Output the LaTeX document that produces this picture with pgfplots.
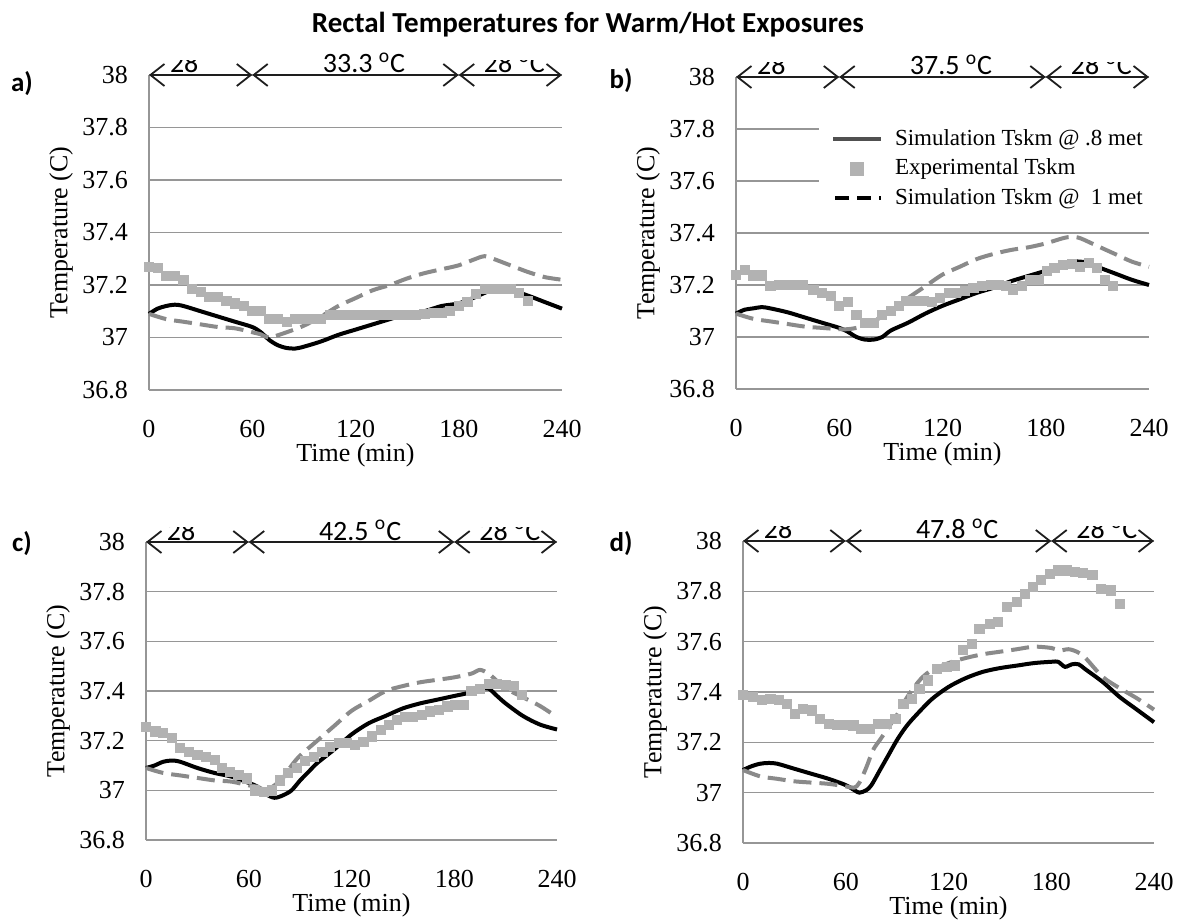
\documentclass[border=0pt]{standalone}
\usepackage{fontspec}
\setmainfont{Liberation Serif}
\newfontfamily\carlito{Carlito}
\usepackage{pgfplots}
\pgfplotsset{compat=1.18}
\usetikzlibrary{arrows.meta,calc}

\definecolor{gridgray}{RGB}{150,150,150}
\definecolor{sqgray}{RGB}{178,178,178}
\definecolor{dashgray}{RGB}{138,138,138}
\definecolor{arrowc}{RGB}{30,30,30}
\definecolor{leggray}{RGB}{80,80,80}

\pgfplotsset{
 panel/.style={
  scale only axis,
  xmin=0,xmax=240,ymin=36.8,ymax=38,
  xtick={0,60,120,180,240},
  ytick={36.8,37,37.2,37.4,37.6,37.8,38},
  axis x line=bottom, axis y line=left,
  axis line style={-,draw=gridgray,line width=0.6pt},
  major tick length=0pt,
  ymajorgrids, grid style={draw=gridgray,line width=0.6pt},
  tick label style={font=\fontsize{13}{15}\selectfont},
  /pgf/number format/assume math mode=true,
  xticklabel style={anchor=center,yshift=-19.5pt},
  yticklabel style={anchor=east,xshift=-7pt},
  xlabel={Time (min)}, ylabel={Temperature (C)},
  every axis x label/.style={at={(axis description cs:0.5,0)},anchor=center,yshift=-32.5pt,font=\fontsize{13}{15}\selectfont},
  every axis y label/.style={at={(axis description cs:0,0.5)},xshift=-44pt,rotate=90,anchor=center,font=\fontsize{13}{15}\selectfont},
  clip=false,
 },
 solidl/.style={black,line width=2pt,smooth,no marks},
 dashl/.style={dashgray,line width=2pt,dash pattern=on 9pt off 4pt,smooth,no marks},
 sq/.style={only marks,mark=square*,mark size=2.3pt,color=sqgray},
}

\newcommand\toparrows[3]{%
 \begin{scope}[arrowc]
 \draw[line width=0.9pt,{Straight Barb[length=7pt,width=11pt]}-{Straight Barb[length=7pt,width=11pt]}] (#1L) -- ($(#1L)!0.25!(#1R)$);
 \draw[line width=0.9pt,{Straight Barb[length=7pt,width=11pt]}-{Straight Barb[length=7pt,width=11pt]}] ($(#1L)!0.25!(#1R)$) -- ($(#1L)!0.75!(#1R)$);
 \draw[line width=0.9pt,{Straight Barb[length=7pt,width=11pt]}-{Straight Barb[length=7pt,width=11pt]}] ($(#1L)!0.75!(#1R)$) -- (#1R);
 \begin{scope}
  \clip ($(#1L)!0.03!(#1R)+(0,-3pt)$) rectangle ($(#1L)!0.2!(#1R)+(0,7.3pt)$);
  \node[anchor=base west,inner sep=0pt,font=\carlito\fontsize{14}{16}\selectfont,black] at ($(#1L)!0.05!(#1R)+(0,1pt)$) {28};
 \end{scope}
 \node[anchor=base west,inner sep=0pt,font=\carlito\fontsize{14}{16}\selectfont,black] at ($(#1L)!0.42!(#1R)+(0,1pt)$) {#2 \textsuperscript{o}C};
 \begin{scope}
  \clip ($(#1L)!0.79!(#1R)+(0,-3pt)$) rectangle ($(#1L)!1.0!(#1R)+(0,7.3pt)$);
  \node[anchor=base west,inner sep=0pt,font=\carlito\fontsize{14}{16}\selectfont,black] at ($(#1L)!0.81!(#1R)+(0,1pt)$) {28 \textsuperscript{o}C};
 \end{scope}
 \end{scope}
}

\begin{document}
\begin{tikzpicture}
\useasboundingbox (0,0) rectangle (592pt,461pt);

\node[font=\carlito\bfseries\fontsize{14.5}{17}\selectfont,anchor=base] at (294pt,444.5pt) {Rectal Temperatures for Warm/Hot Exposures};
\node[font=\carlito\bfseries\fontsize{13.5}{16}\selectfont] at (11pt,419pt) {a)};
\node[font=\carlito\bfseries\fontsize{13.5}{16}\selectfont] at (310.5pt,420.5pt) {b)};
\node[font=\carlito\bfseries\fontsize{13.5}{16}\selectfont] at (11pt,189pt) {c)};
\node[font=\carlito\bfseries\fontsize{13.5}{16}\selectfont] at (310.5pt,189pt) {d)};

% ---------------- panel a ----------------
\begin{axis}[panel, at={(74.5pt,266pt)}, anchor=south west, width=206.5pt, height=157.5pt]
\addplot[sq] coordinates {(0,37.27)(5,37.265)(10,37.235)(15,37.235)(20,37.22)(25,37.185)(30,37.175)(35,37.155)(40,37.155)(45,37.14)(50,37.13)(55,37.12)(60,37.10)(65,37.10)(70,37.07)(75,37.07)(80,37.06)(85,37.07)(90,37.07)(95,37.07)(100,37.07)(105,37.085)(110,37.085)(115,37.085)(120,37.085)(125,37.085)(130,37.085)(135,37.085)(140,37.085)(145,37.085)(150,37.085)(155,37.085)(160,37.09)(165,37.095)(170,37.095)(175,37.10)(180,37.12)(185,37.135)(190,37.165)(195,37.185)(200,37.185)(205,37.185)(210,37.185)(215,37.17)(220,37.14)};
\addplot[solidl] coordinates {(0,37.09)(5,37.11)(10,37.12)(15,37.125)(20,37.12)(30,37.10)(40,37.08)(50,37.06)(60,37.04)(65,37.02)(70,36.99)(75,36.97)(80,36.96)(85,36.958)(90,36.965)(100,36.985)(110,37.01)(120,37.03)(130,37.05)(140,37.07)(150,37.09)(160,37.10)(170,37.12)(180,37.13)(190,37.155)(195,37.17)(200,37.18)(210,37.18)(220,37.16)(230,37.135)(240,37.11)};
\addplot[dashl] coordinates {(0,37.09)(10,37.07)(20,37.06)(30,37.05)(40,37.04)(50,37.035)(60,37.02)(65,37.012)(70,37.0)(80,37.02)(90,37.045)(100,37.08)(110,37.12)(120,37.15)(130,37.18)(140,37.20)(150,37.225)(160,37.245)(170,37.26)(180,37.275)(190,37.30)(195,37.31)(200,37.30)(210,37.275)(220,37.25)(230,37.23)(240,37.22)};
\coordinate (aL) at (rel axis cs:0,1);
\coordinate (aR) at (rel axis cs:1,1);
\end{axis}
\toparrows{a}{33.3}{}

% ---------------- panel b ----------------
\begin{axis}[panel, at={(368pt,266.5pt)}, anchor=south west, width=206.5pt, height=156pt,
  legend style={at={(0.2,0.86)},anchor=north west,draw=none,fill=white,
   font=\fontsize{11.5}{13}\selectfont,row sep=1.5pt,inner xsep=6pt,inner ysep=2pt,
   /tikz/every odd column/.append style={column sep=4pt}},
  legend cell align=left]
\addlegendimage{legend image code/.code={\draw[line width=2pt,leggray] (0pt,0pt) -- (24pt,0pt);}}
\addlegendentry{Simulation Tskm @ .8 met}
\addlegendimage{legend image code/.code={\fill[sqgray] (8.7pt,-3.3pt) rectangle (15.3pt,3.3pt);}}
\addlegendentry{Experimental Tskm}
\addlegendimage{legend image code/.code={\draw[line width=2pt,black,dash pattern=on 7pt off 4pt] (1pt,0pt) -- (24pt,0pt);}}
\addlegendentry{Simulation Tskm @\ \ 1 met}
\addplot[sq,forget plot] coordinates {(0,37.24)(5,37.257)(10,37.237)(15,37.237)(20,37.196)(25,37.20)(30,37.20)(35,37.20)(39,37.20)(45,37.18)(50,37.17)(55,37.157)(60,37.12)(65,37.135)(70,37.086)(75,37.054)(80,37.054)(85,37.086)(90,37.10)(94.5,37.12)(99,37.14)(104,37.14)(109,37.14)(114,37.135)(118.6,37.15)(123.5,37.17)(128,37.17)(133,37.177)(138,37.19)(143,37.196)(148,37.2)(152.5,37.2)(157,37.196)(161,37.18)(166,37.196)(171,37.22)(176,37.22)(180.6,37.254)(185,37.267)(190,37.277)(195,37.28)(200,37.27)(205,37.286)(209.6,37.267)(214.5,37.22)(219,37.196)};
\addplot[solidl,forget plot] coordinates {(0,37.09)(5,37.105)(10,37.11)(15,37.115)(20,37.11)(30,37.095)(40,37.075)(50,37.055)(60,37.035)(65,37.02)(70,37.0)(75,36.99)(80,36.99)(85,37.0)(90,37.025)(100,37.055)(110,37.09)(120,37.12)(130,37.145)(140,37.17)(150,37.19)(160,37.215)(170,37.235)(180,37.255)(190,37.28)(195,37.29)(200,37.29)(205,37.285)(210,37.27)(220,37.245)(230,37.22)(240,37.20)};
\addplot[dashl,forget plot] coordinates {(0,37.09)(10,37.07)(20,37.06)(30,37.05)(40,37.04)(50,37.035)(60,37.03)(65,37.03)(70,37.035)(75,37.045)(80,37.06)(90,37.10)(100,37.15)(110,37.195)(120,37.24)(130,37.27)(140,37.30)(150,37.32)(160,37.335)(170,37.345)(180,37.36)(190,37.38)(195,37.385)(200,37.38)(210,37.35)(220,37.32)(230,37.29)(240,37.27)};
\coordinate (bL) at (rel axis cs:0,1);
\coordinate (bR) at (rel axis cs:1,1);
\end{axis}
\toparrows{b}{37.5}{}

% ---------------- panel c ----------------
\begin{axis}[panel, at={(73pt,41pt)}, anchor=south west, width=205.5pt, height=149pt]
\addplot[sq] coordinates {(0,37.257)(5.5,37.237)(10,37.23)(15,37.21)(20,37.17)(25,37.156)(30,37.143)(35,37.136)(40,37.122)(44.4,37.089)(49,37.075)(54,37.062)(59,37.048)(63.8,37.0)(68.7,36.995)(73.6,37.0)(78,37.04)(83,37.069)(88,37.089)(93,37.12)(98,37.136)(103,37.156)(107.6,37.176)(112.5,37.19)(117,37.19)(122,37.183)(127,37.196)(132,37.217)(137,37.244)(141.7,37.264)(146.6,37.284)(151.4,37.297)(156,37.297)(161,37.304)(166,37.318)(171,37.324)(176,37.338)(180.6,37.345)(185.5,37.345)(190,37.40)(195,37.41)(200,37.43)(205,37.43)(210,37.425)(214.7,37.42)(219.6,37.385)};
\addplot[solidl] coordinates {(0,37.09)(5,37.10)(10,37.115)(15,37.12)(20,37.115)(30,37.09)(40,37.07)(50,37.055)(60,37.03)(65,37.015)(70,36.985)(75,36.97)(80,36.98)(85,37.0)(90,37.04)(95,37.075)(100,37.11)(110,37.165)(120,37.225)(130,37.27)(140,37.30)(150,37.33)(160,37.35)(170,37.365)(180,37.38)(190,37.395)(195,37.41)(200,37.41)(205,37.38)(210,37.35)(220,37.30)(230,37.265)(240,37.245)};
\addplot[dashl] coordinates {(0,37.09)(10,37.07)(20,37.06)(30,37.05)(40,37.04)(50,37.035)(60,37.02)(65,37.015)(70,37.0)(75,37.02)(80,37.05)(85,37.10)(90,37.14)(100,37.20)(110,37.26)(120,37.32)(130,37.36)(140,37.40)(150,37.42)(160,37.435)(170,37.445)(180,37.455)(190,37.47)(195,37.485)(200,37.47)(205,37.44)(210,37.41)(220,37.375)(230,37.34)(240,37.295)};
\coordinate (cL) at (rel axis cs:0,1);
\coordinate (cR) at (rel axis cs:1,1);
\end{axis}
\toparrows{c}{42.5}{}

% ---------------- panel d ----------------
\begin{axis}[panel, at={(371.5pt,39.5pt)}, anchor=south west, width=205.5pt, height=151pt]
\addplot[sq] coordinates {(0,37.387)(6,37.38)(11,37.37)(16,37.373)(21,37.37)(25.6,37.354)(30.5,37.314)(35,37.334)(40,37.327)(45,37.294)(50,37.274)(55,37.27)(60,37.27)(64.5,37.267)(69,37.254)(74,37.254)(79,37.274)(84,37.274)(89,37.294)(93.7,37.354)(98.5,37.373)(103,37.413)(108,37.446)(113,37.493)(119,37.50)(123.8,37.506)(128.6,37.566)(133.5,37.592)(138,37.652)(144,37.67)(149,37.678)(154,37.738)(160,37.758)(164.6,37.79)(169.5,37.817)(174,37.844)(179,37.87)(184,37.883)(189,37.883)(193.7,37.877)(198.6,37.873)(204,37.864)(209,37.81)(215,37.804)(220,37.75)};
\addplot[solidl] coordinates {(0,37.09)(5,37.105)(10,37.115)(15,37.118)(20,37.115)(30,37.095)(40,37.075)(50,37.055)(60,37.03)(65,37.01)(68,37.0)(72,37.01)(75,37.03)(80,37.09)(85,37.15)(90,37.21)(95,37.26)(100,37.30)(110,37.37)(120,37.42)(130,37.455)(140,37.48)(150,37.495)(160,37.505)(170,37.515)(180,37.52)(184,37.52)(188,37.50)(192,37.51)(196,37.51)(200,37.49)(210,37.44)(220,37.38)(230,37.33)(240,37.28)};
\addplot[dashl] coordinates {(0,37.09)(10,37.065)(20,37.055)(30,37.045)(40,37.04)(50,37.035)(60,37.025)(65,37.02)(68,37.04)(72,37.10)(76,37.17)(80,37.21)(85,37.26)(90,37.31)(95,37.37)(100,37.42)(105,37.46)(110,37.485)(120,37.515)(130,37.535)(140,37.55)(150,37.56)(160,37.57)(170,37.58)(180,37.575)(185,37.565)(190,37.57)(195,37.56)(200,37.535)(210,37.46)(220,37.415)(230,37.375)(240,37.33)};
\coordinate (dL) at (rel axis cs:0,1);
\coordinate (dR) at (rel axis cs:1,1);
\end{axis}
\toparrows{d}{47.8}{}
\end{tikzpicture}
\end{document}
